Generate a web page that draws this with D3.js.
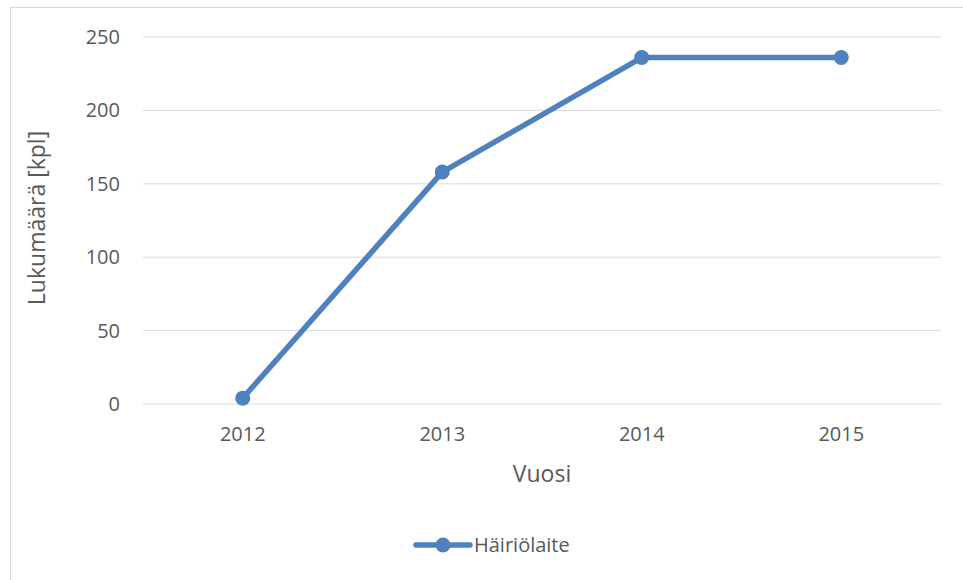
<!DOCTYPE html>
<html>
<head>
<meta charset="utf-8">
<script src="https://cdn.jsdelivr.net/npm/d3@7"></script>
<style>
  body { margin: 0; background: #fff; }
  text { font-family: "Open Sans", "Noto Sans", sans-serif; fill: #595959; }
</style>
</head>
<body>
<svg id="chart" width="963" height="580"></svg>
<script>
const years = ["2012", "2013", "2014", "2015"];
const counts = [4, 158, 236, 236];
const yTicks = [0, 50, 100, 150, 200, 250];
const seriesName = "Häiriölaite";

const color = "#4f81bd";
const svg = d3.select("#chart");

// outer chart border
svg.append("rect")
  .attr("x", 10.5).attr("y", 7.5)
  .attr("width", 970).attr("height", 600)
  .attr("fill", "none").attr("stroke", "#d9d9d9");

const plotL = 143, plotR = 941, plotT = 37, plotB = 404;

const x = d3.scaleBand().domain(years).range([plotL, plotR]);
const y = d3.scaleLinear().domain([0, 250]).range([plotB, plotT]);

// gridlines
svg.append("g")
  .selectAll("line")
  .data(yTicks)
  .enter()
  .append("line")
  .attr("x1", plotL).attr("x2", plotR)
  .attr("y1", d => y(d)).attr("y2", d => y(d))
  .attr("stroke", "#d9d9d9")
  .attr("stroke-width", 1);

// y axis labels
const yAxis = svg.append("g")
  .attr("transform", `translate(${plotL},0)`)
  .call(d3.axisLeft(y).tickValues(yTicks).tickSize(0).tickPadding(23));
yAxis.select(".domain").remove();
yAxis.selectAll("text").attr("font-size", 20).style("fill", "#595959")
  .style("font-family", '"Open Sans", sans-serif');

// x axis labels
const xAxis = svg.append("g")
  .attr("transform", `translate(0,${plotB})`)
  .call(d3.axisBottom(x).tickSize(0).tickPadding(23));
xAxis.select(".domain").remove();
xAxis.selectAll("text").attr("font-size", 20).style("fill", "#595959")
  .style("font-family", '"Open Sans", sans-serif');

// axis titles
svg.append("text")
  .attr("x", (plotL + plotR) / 2).attr("y", 482)
  .attr("text-anchor", "middle")
  .attr("font-size", 23)
  .text("Vuosi");

svg.append("text")
  .attr("transform", "translate(45,218) rotate(-90)")
  .attr("text-anchor", "middle")
  .attr("font-size", 23)
  .text("Lukumäärä [kpl]");

// series
const pts = years.map((yr, i) => [x(yr) + x.bandwidth() / 2, y(counts[i])]);

svg.append("path")
  .attr("d", d3.line()(pts))
  .attr("fill", "none")
  .attr("stroke", color)
  .attr("stroke-width", 5.5)
  .attr("stroke-linejoin", "round")
  .attr("stroke-linecap", "round");

svg.append("g")
  .selectAll("circle")
  .data(pts)
  .enter()
  .append("circle")
  .attr("cx", d => d[0]).attr("cy", d => d[1])
  .attr("r", 7.5)
  .attr("fill", color);

// legend
const lg = svg.append("g").attr("transform", "translate(416,545)");
lg.append("line")
  .attr("x1", 0).attr("x2", 54)
  .attr("stroke", color).attr("stroke-width", 5.5)
  .attr("stroke-linecap", "round");
lg.append("circle").attr("cx", 27).attr("r", 7.5).attr("fill", color);
lg.append("text")
  .attr("x", 58).attr("y", 7)
  .attr("font-size", 20)
  .text(seriesName);
</script>
</body>
</html>
